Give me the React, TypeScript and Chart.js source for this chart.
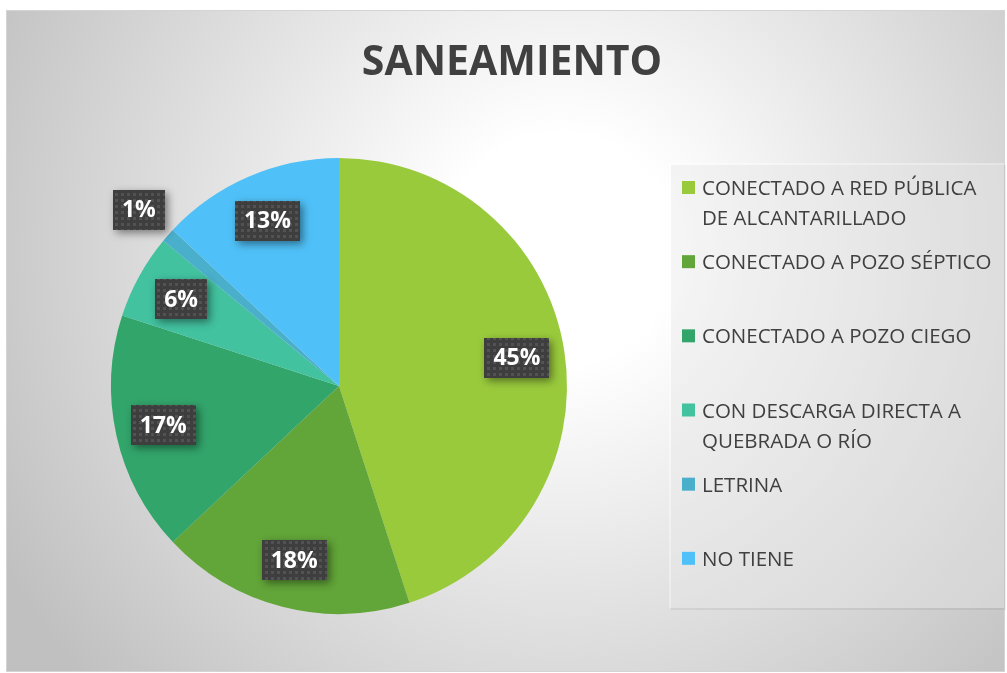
import React, { useEffect, useRef } from "react";
import { Chart, registerables } from "chart.js";

Chart.register(...registerables);

const TITLE = "SANEAMIENTO";
const categories: string[][] = [
  ["CONECTADO A RED PÚBLICA", "DE ALCANTARILLADO"],
  ["CONECTADO A POZO SÉPTICO"],
  ["CONECTADO A POZO CIEGO"],
  ["CON DESCARGA DIRECTA A", "QUEBRADA O RÍO"],
  ["LETRINA"],
  ["NO TIENE"],
];
const values = [45, 18, 17, 6, 1, 13];
const colors = ["#99CA3C", "#62A538", "#32A56B", "#42C29F", "#4AAFCB", "#4FC1F8"];

const W = 1007;
const H = 673;
const FRAME = { x: 6, y: 10, w: 999, h: 662 };
const LEGEND = { x: 669, y: 163, w: 335, h: 445 };
const TEXT_COLOR = "#404040";
const FONT = '"Open Sans", "DejaVu Sans", sans-serif';

function makePattern(ctx: CanvasRenderingContext2D): CanvasPattern | string {
  const c = document.createElement("canvas");
  c.width = 6;
  c.height = 6;
  const g = c.getContext("2d");
  if (!g) return "#404040";
  g.fillStyle = "#3e3e3e";
  g.fillRect(0, 0, 6, 6);
  g.fillStyle = "#525252";
  g.fillRect(1, 1, 3, 3);
  return ctx.createPattern(c, "repeat") || "#404040";
}

const backgroundPlugin = {
  id: "bgDecor",
  beforeDraw(chart: any) {
    const ctx: CanvasRenderingContext2D = chart.ctx;
    ctx.save();
    ctx.fillStyle = "#ffffff";
    ctx.fillRect(0, 0, W, H);
    const cx = 560;
    const cy = 250;
    const grad = ctx.createRadialGradient(cx, cy, 0, cx, cy, 640);
    grad.addColorStop(0, "#ffffff");
    grad.addColorStop(0.18, "#ffffff");
    grad.addColorStop(1, "#c0c0c0");
    ctx.fillStyle = grad;
    ctx.fillRect(FRAME.x, FRAME.y, FRAME.w, FRAME.h);
    ctx.strokeStyle = "#d4d4d4";
    ctx.lineWidth = 1;
    ctx.strokeRect(FRAME.x + 0.5, FRAME.y + 0.5, FRAME.w - 1, FRAME.h - 1);

    // title
    ctx.fillStyle = TEXT_COLOR;
    ctx.font = `bold 41px ${FONT}`;
    ctx.textAlign = "center";
    ctx.textBaseline = "alphabetic";
    ctx.fillText(TITLE, 512, 75);

    // legend box
    ctx.fillStyle = "rgba(0,0,0,0.06)";
    ctx.fillRect(LEGEND.x + 2, LEGEND.y + 2, LEGEND.w, LEGEND.h);
    ctx.fillStyle = "rgba(255,255,255,0.36)";
    ctx.fillRect(LEGEND.x, LEGEND.y, LEGEND.w, LEGEND.h);

    // legend entries
    const labels: string[][] = chart.data.labels;
    const bg: string[] = chart.data.datasets[0].backgroundColor;
    const slot = LEGEND.h / labels.length;
    ctx.font = `20.5px ${FONT}`;
    ctx.textAlign = "left";
    labels.forEach((lines, i) => {
      const capTop = LEGEND.y + 17 + i * slot;
      const base = capTop + 15;
      ctx.fillStyle = bg[i];
      ctx.fillRect(682, capTop + 1, 13, 13);
      ctx.fillStyle = TEXT_COLOR;
      lines.forEach((ln, j) => {
        ctx.fillText(ln, 702, base + j * 30);
      });
    });
    ctx.restore();
  },
};

const labelPlugin = {
  id: "boxLabels",
  afterDatasetsDraw(chart: any) {
    const ctx: CanvasRenderingContext2D = chart.ctx;
    const data: number[] = chart.data.datasets[0].data;
    const total = data.reduce((a, b) => a + b, 0);
    const meta = chart.getDatasetMeta(0);
    const pattern = makePattern(ctx);
    ctx.save();
    ctx.font = `bold 23px ${FONT}`;
    meta.data.forEach((arc: any, i: number) => {
      const p = arc.getProps(["x", "y", "startAngle", "endAngle", "outerRadius"], true);
      const mid = (p.startAngle + p.endAngle) / 2;
      const pct = (data[i] / total) * 100;
      const f = pct < 3 ? 1.17 : 0.79;
      const lx = p.x + Math.cos(mid) * p.outerRadius * f;
      const ly = p.y + Math.sin(mid) * p.outerRadius * f;
      const text = `${Math.round(pct)}%`;
      const w = ctx.measureText(text).width + 18;
      const h = 40;
      ctx.save();
      ctx.shadowColor = "rgba(0,0,0,0.45)";
      ctx.shadowBlur = 8;
      ctx.shadowOffsetX = 3;
      ctx.shadowOffsetY = 3;
      ctx.fillStyle = pattern;
      ctx.fillRect(Math.round(lx - w / 2), Math.round(ly - h / 2), Math.round(w), h);
      ctx.restore();
      ctx.fillStyle = "#ffffff";
      ctx.textAlign = "center";
      ctx.textBaseline = "middle";
      ctx.fillText(text, lx, ly + 1);
    });
    ctx.restore();
  },
};

export default function App() {
  const ref = useRef<HTMLCanvasElement | null>(null);
  useEffect(() => {
    if (!ref.current) return;
    const chart = new Chart(ref.current, {
      type: "pie",
      data: {
        labels: categories as any,
        datasets: [
          {
            data: values,
            backgroundColor: colors,
            borderWidth: 0,
            hoverOffset: 0,
            offset: 0,
          },
        ],
      },
      options: {
        responsive: false,
        animation: false,
        events: [],
        layout: { padding: { left: 111, right: 440, top: 158, bottom: 59 } },
        plugins: {
          legend: { display: false },
          title: { display: false },
          tooltip: { enabled: false },
        },
      },
      plugins: [backgroundPlugin, labelPlugin],
    });
    return () => chart.destroy();
  }, []);
  return (
    <div style={{ position: "fixed", left: 0, top: 0, width: W, height: H }}>
      <canvas ref={ref} width={W} height={H} style={{ display: "block", width: W, height: H }} />
    </div>
  );
}
